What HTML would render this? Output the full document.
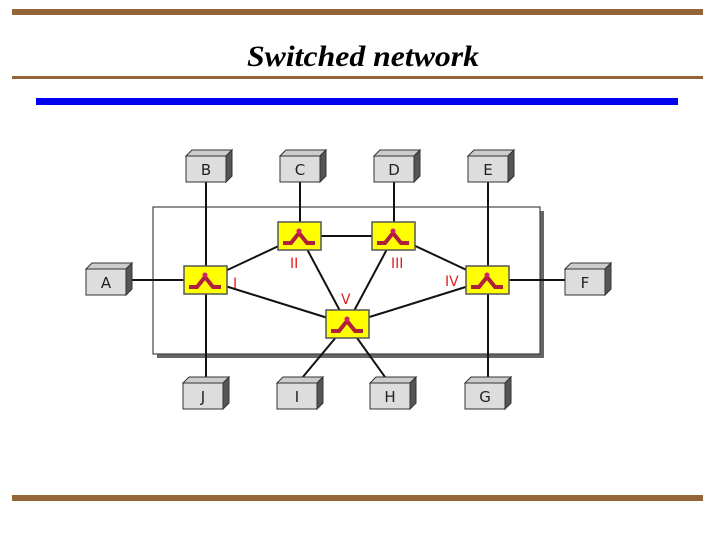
<!DOCTYPE html>
<html><head><style>body{margin:0;background:#fff;width:720px;height:540px;overflow:hidden}</style></head><body>
<svg width="720" height="540" viewBox="0 0 720 540" xmlns="http://www.w3.org/2000/svg">
<defs>
<g id="sw">
<rect x="0" y="0" width="43" height="28" fill="#ffff00" stroke="#555" stroke-width="1.5"/>
<path d="M5 21 L13 21 L21 11 L29 21 L37 21" fill="none" stroke="#b0203a" stroke-width="4" stroke-linejoin="miter"/>
<circle cx="21" cy="9" r="2.5" fill="#d0206a"/>
</g>
<g id="host">
<polygon points="0,0 6,-6 46,-6 40,0" fill="#ccc" stroke="#333" stroke-width="1"/>
<polygon points="40,0 46,-6 46,20 40,26" fill="#555" stroke="#333" stroke-width="1"/>
<rect x="0" y="0" width="40" height="26" fill="#ddd" stroke="#333" stroke-width="1"/>
</g>
</defs>
<rect x="12" y="9" width="691" height="6" fill="#946537"/>
<text x="363" y="66" text-anchor="middle" font-family="Liberation Serif" font-style="italic" font-weight="bold" font-size="30" textLength="232" lengthAdjust="spacingAndGlyphs">Switched network</text>
<rect x="12" y="76" width="691" height="3" fill="#946537"/>
<rect x="36" y="98" width="642" height="7" fill="#0000ee"/>
<rect x="12" y="495" width="691" height="6" fill="#946537"/>
<rect x="157" y="211" width="387" height="147" fill="#666"/>
<rect x="153" y="207" width="387" height="147" fill="#fff" stroke="#444" stroke-width="1.2"/>
<g stroke="#111" stroke-width="2" fill="none">
<line x1="206" y1="180" x2="206" y2="384"/>
<line x1="300" y1="180" x2="300" y2="236"/>
<line x1="394" y1="180" x2="394" y2="236"/>
<line x1="488" y1="180" x2="488" y2="384"/>
<line x1="126" y1="280" x2="206" y2="280"/>
<line x1="488" y1="280" x2="566" y2="280"/>
<line x1="206" y1="280" x2="300" y2="236"/>
<line x1="300" y1="236" x2="394" y2="236"/>
<line x1="206" y1="280" x2="347" y2="324"/>
<line x1="300" y1="236" x2="347" y2="324"/>
<line x1="394" y1="236" x2="347" y2="324"/>
<line x1="394" y1="236" x2="488" y2="280"/>
<line x1="488" y1="280" x2="347" y2="324"/>
<line x1="347" y1="324" x2="297" y2="384"/>
<line x1="347" y1="324" x2="390" y2="384"/>
</g>
<use href="#sw" x="184" y="266"/>
<use href="#sw" x="278" y="222"/>
<use href="#sw" x="372" y="222"/>
<use href="#sw" x="466" y="266"/>
<use href="#sw" x="326" y="310"/>
<g font-family="DejaVu Sans" font-size="14" fill="#e02020">
<text x="233" y="288">I</text><text x="290" y="268">II</text><text x="391" y="268">III</text>
<text x="445" y="286">IV</text><text x="341" y="304">V</text>
</g>
<use href="#host" x="186" y="156"/><use href="#host" x="280" y="156"/>
<use href="#host" x="374" y="156"/><use href="#host" x="468" y="156"/>
<use href="#host" x="86" y="269"/><use href="#host" x="565" y="269"/>
<use href="#host" x="183" y="383"/><use href="#host" x="277" y="383"/>
<use href="#host" x="370" y="383"/><use href="#host" x="465" y="383"/>
<g font-family="DejaVu Sans" font-size="15" fill="#222" text-anchor="middle">
<text x="206" y="175">B</text><text x="300" y="175">C</text><text x="394" y="175">D</text><text x="488" y="175">E</text>
<text x="106" y="288">A</text><text x="585" y="288">F</text>
<text x="203" y="402">J</text><text x="297" y="402">I</text><text x="390" y="402">H</text><text x="485" y="402">G</text>
</g>
</svg>
</body></html>
